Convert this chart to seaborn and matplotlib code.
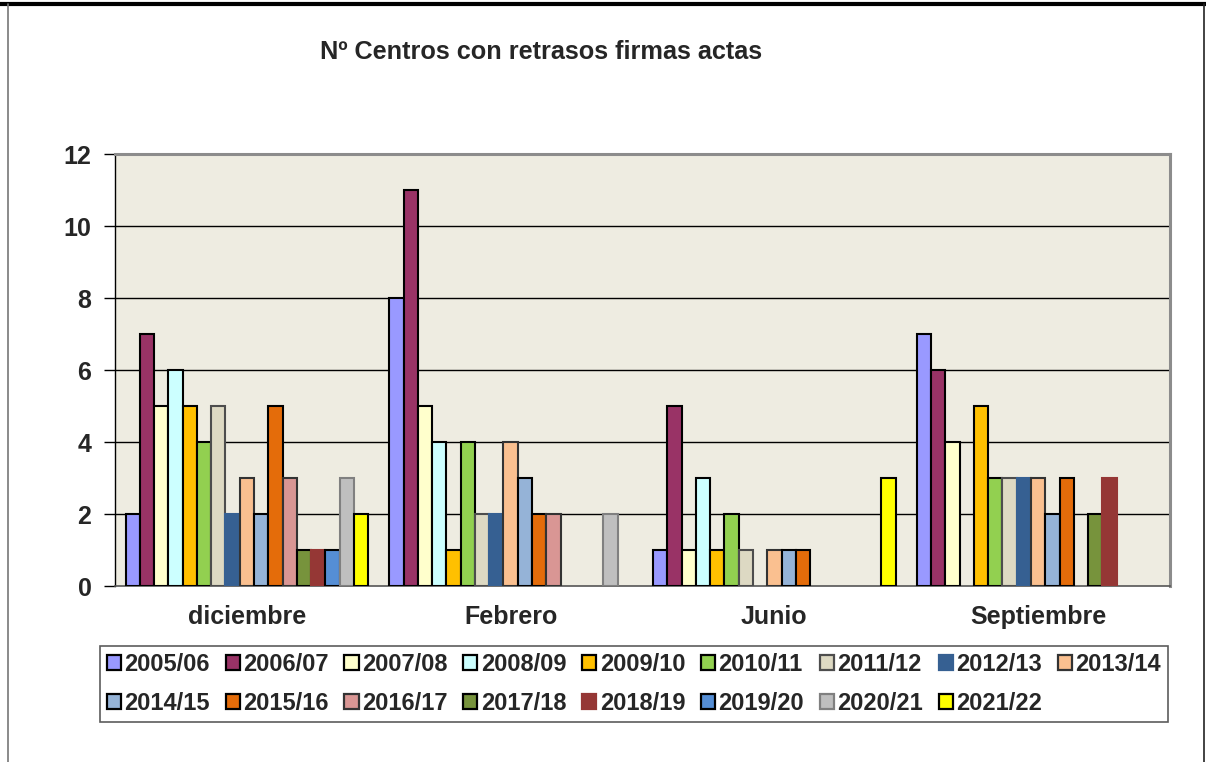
import numpy as np
import pandas as pd
import matplotlib
matplotlib.use("Agg")
import matplotlib.pyplot as plt
from matplotlib.patches import Patch
from matplotlib.lines import Line2D
import seaborn as sns

# Months in which delays were counted
months = ["diciembre", "Febrero", "Junio", "Septiembre"]

# School years (one bar per year inside each month)
seasons = ["2005/06", "2006/07", "2007/08", "2008/09", "2009/10", "2010/11",
           "2011/12", "2012/13", "2013/14", "2014/15", "2015/16", "2016/17",
           "2017/18", "2018/19", "2019/20", "2020/21", "2021/22"]

# Number of centres with late signatures, per month, one value per school year
diciembre = [2, 7, 5, 6, 5, 4, 5, 2, 3, 2, 5, 3, 1, 1, 1, 3, 2]
febrero = [8, 11, 5, 4, 1, 4, 2, 2, 4, 3, 2, 2, 0, 0, 0, 2, 0]
junio = [1, 5, 1, 3, 1, 2, 1, 0, 1, 1, 1, 0, 0, 0, 0, 0, 3]
septiembre = [7, 6, 4, 0, 5, 3, 3, 3, 3, 2, 3, 0, 2, 3, 0, 0, 0]

y_ticks = [0, 2, 4, 6, 8, 10, 12]

fill_colors = ["#9999FF", "#993366", "#FFFFCC", "#CCFFFF", "#FFC000", "#92D050",
               "#DDD9C3", "#366092", "#FAC090", "#95B3D7", "#E46C0A", "#D99694",
               "#77933C", "#953735", "#558ED5", "#BFBFBF", "#FFFF00"]
edge_colors = ["#000000", "#000000", "#000000", "#000000", "#000000", "#000000",
               "#4D4D4D", "#366092", "#333333", "#000000", "#000000", "#333333",
               "#000000", "#953735", "#000000", "#808080", "#000000"]

values_by_month = [diciembre, febrero, junio, septiembre]
df = pd.DataFrame({
    "mes": np.repeat(months, len(seasons)),
    "curso": seasons * len(months),
    "centros": np.concatenate(values_by_month),
})

sns.set_style("white")
plt.rcParams["font.family"] = ["Liberation Sans", "DejaVu Sans"]
plt.rcParams["font.weight"] = "bold"

fig = plt.figure(figsize=(12.06, 7.62), dpi=100)
ax = fig.add_axes([115 / 1206, 1 - 586 / 762, (1170 - 115) / 1206, (586 - 154) / 762])

sns.barplot(data=df, x="mes", y="centros", hue="curso", order=months,
            hue_order=seasons, palette=fill_colors, saturation=1,
            width=0.92, gap=0, errorbar=None, legend=False,
            edgecolor="black", linewidth=1.5, ax=ax)

for container, ec in zip(ax.containers, edge_colors):
    for patch in container:
        patch.set_edgecolor(ec)
        patch.set_zorder(3)
        if patch.get_height() == 0:
            patch.set_linewidth(0)

ax.set_facecolor("#EEECE1")
ax.set_ylim(0, 12)
ax.set_xlim(-0.5, len(months) - 0.5)
ax.set_yticks(y_ticks)
ax.set_yticklabels([str(t) for t in y_ticks], fontsize=18, fontweight="bold")
for t in y_ticks[1:-1]:
    ax.axhline(t, color="black", linewidth=1.0, zorder=1)

ax.set_xticks(range(len(months)))
ax.set_xticklabels(months, fontsize=18, fontweight="bold")
ax.set_xticks(np.arange(-0.5, len(months)), minor=True)
ax.tick_params(axis="x", which="major", length=0, pad=14)
ax.tick_params(axis="x", which="minor", length=7, width=1, color="#333333", direction="out")
ax.tick_params(axis="y", which="major", length=8, width=1, color="black", direction="out", pad=9, left=True)
ax.set_xlabel("")
ax.set_ylabel("")

for side in ("top", "right"):
    ax.spines[side].set_color("#8C8C8C")
    ax.spines[side].set_linewidth(2.2)
ax.spines["left"].set_color("black")
ax.spines["left"].set_linewidth(1.0)
ax.spines["bottom"].set_color("#555555")
ax.spines["bottom"].set_linewidth(1.2)

# Title
fig.text(541 / 1206, 1 - 52 / 762, "Nº Centros con retrasos firmas actas",
         ha="center", va="center", fontsize=18.2, fontweight="bold")

# Legend laid out row by row: 9 entries on top, 8 below
handles = [Patch(facecolor=fc, edgecolor=ec, linewidth=1.6)
           for fc, ec in zip(fill_colors, edge_colors)]
ncol = 9
order = []
for c in range(ncol):
    for r in range(2):
        i = r * ncol + c
        if i < len(seasons):
            order.append(i)
leg = fig.legend([handles[i] for i in order], [seasons[i] for i in order],
                 ncol=ncol, loc="upper center",
                 bbox_to_anchor=(634 / 1206, 1 - 646 / 762),
                 bbox_transform=fig.transFigure, borderaxespad=0,
                 prop={"weight": "bold", "size": 17},
                 handlelength=0.6, handleheight=0.6, handletextpad=0.15,
                 columnspacing=0.66, labelspacing=0.68, borderpad=0.3,
                 fancybox=False, shadow=False, frameon=True)
leg.get_frame().set_edgecolor("#333333")
leg.get_frame().set_linewidth(1.2)

# Page frame lines around the chart
fig.add_artist(Line2D([0, 1], [1 - 3.5 / 762, 1 - 3.5 / 762], transform=fig.transFigure,
                      color="black", linewidth=3.0))
fig.add_artist(Line2D([8 / 1206, 8 / 1206], [0, 1 - 3.5 / 762], transform=fig.transFigure,
                      color="#777777", linewidth=1.2))
fig.add_artist(Line2D([1204 / 1206, 1204 / 1206], [0, 1 - 3.5 / 762], transform=fig.transFigure,
                      color="#222222", linewidth=1.2))

fig.savefig("out.png", dpi=100, facecolor="white")
